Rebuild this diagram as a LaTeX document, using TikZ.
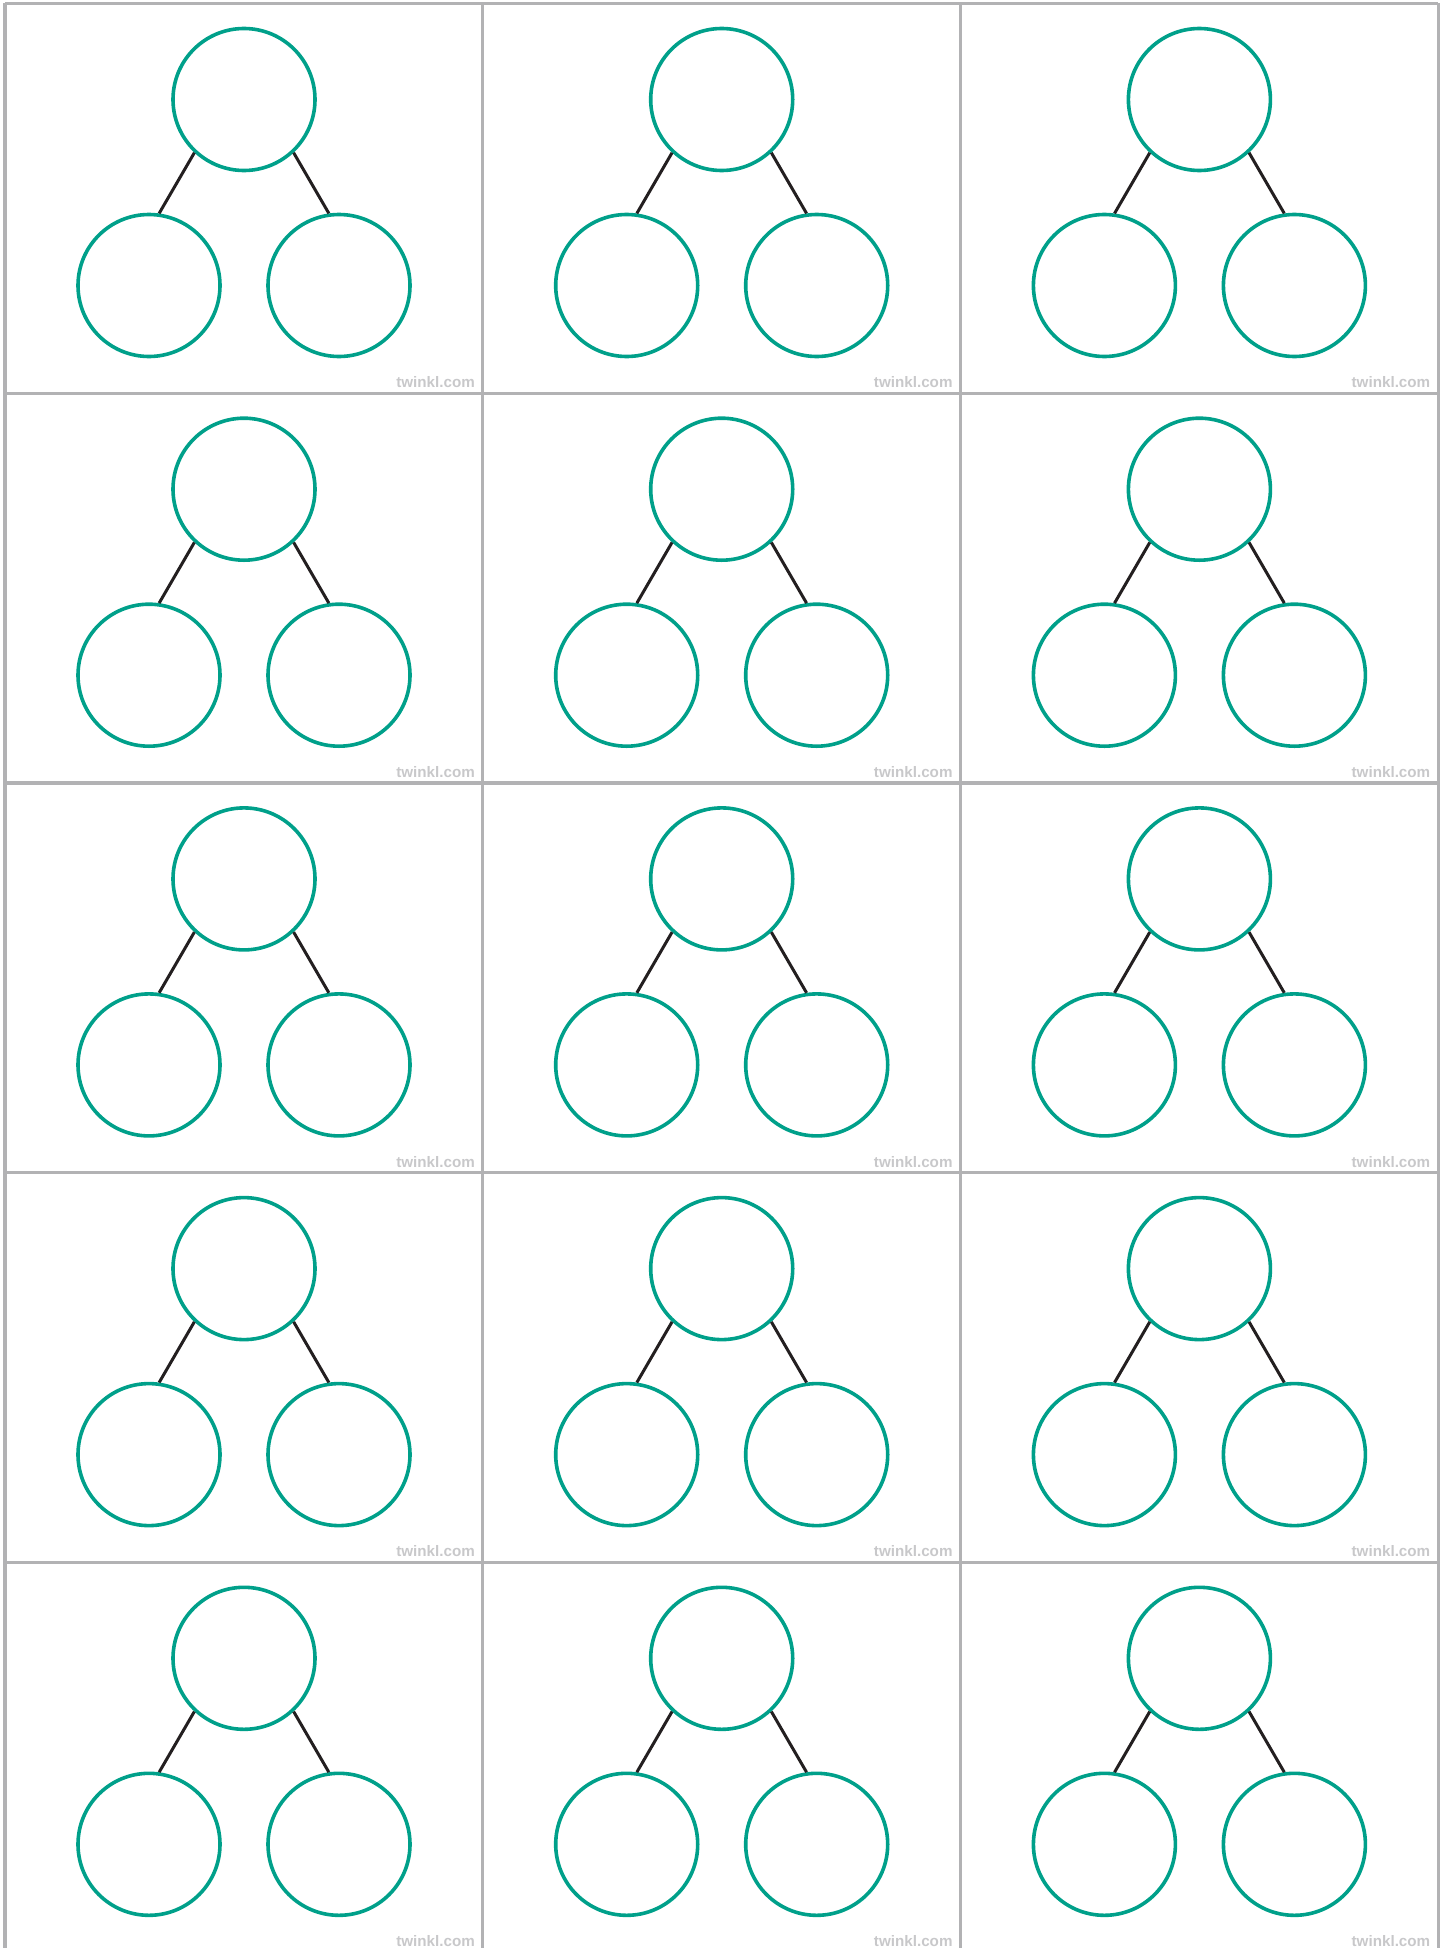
\documentclass[tikz,border=0pt]{standalone}
\usepackage{fontspec}
\newfontfamily\twinklfont{Liberation Sans}
\definecolor{bondteal}{RGB}{0,160,138}
\definecolor{gridgrey}{RGB}{178,178,180}
\definecolor{markgrey}{RGB}{200,200,202}
\definecolor{linkdark}{RGB}{35,31,32}

\begin{document}
\begin{tikzpicture}[x=0.5pt, y=-0.5pt,
  part/.style={circle, draw=bondteal, line width=1.8pt, minimum size=71pt, inner sep=0pt},
  link/.style={draw=linkdark, line width=1.5pt},
  gridline/.style={draw=gridgrey, line width=1.6pt},
  wmark/.style={anchor=base east, inner sep=0pt, text=markgrey, font=\twinklfont\bfseries\fontsize{7.6}{9}\selectfont}]

%---------------------------------------
% Page size and sheet grid
%---------------------------------------
\def\xo{5}
\def\yo{3.5}
\def\cw{477.7}
\def\ch{389.7}

\useasboundingbox (0,0) rectangle (1451,1948);
\clip (0,0) rectangle (1451,1948);

% Columns
\foreach \k in {0,...,3}
  \draw[gridline] ({\xo+\k*\cw},\yo) -- ({\xo+\k*\cw},2000);
% Rows
\foreach \k in {0,...,5}
  \draw[gridline] (\xo,{\yo+\k*\ch}) -- ({\xo+3*\cw},{\yo+\k*\ch});

%====================================================
% Part-whole models, one per cell
%====================================================
\foreach \r in {0,...,4}{
  \foreach \c in {0,1,2}{
    \begin{scope}[shift={({\xo+\c*\cw},{\yo+\r*\ch})}]
      % Whole and parts
      \node[part] (t-\r-\c) at (239,96) {};
      \node[part] (l-\r-\c) at (144,282) {};
      \node[part] (r-\r-\c) at (334,282) {};

      % Links
      \draw[link] (t-\r-\c.227) -- (l-\r-\c.82);
      \draw[link] (t-\r-\c.313) -- (r-\r-\c.98);

      \node[wmark] (w-\r-\c) at (\cw-7.5,\ch-5.5) {twinkl.com};
    \end{scope}
  }
}

\end{tikzpicture}
\end{document}
